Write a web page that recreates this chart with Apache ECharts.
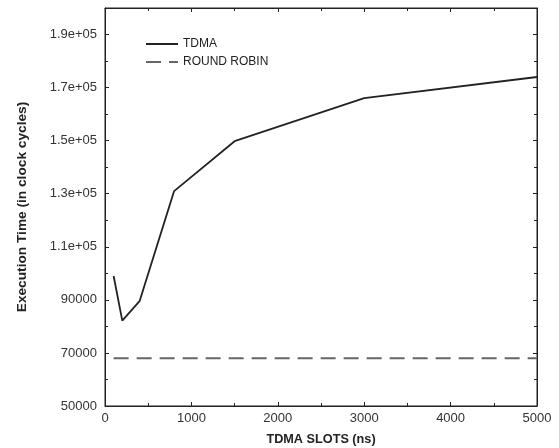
<!DOCTYPE html>
<html>
<head>
<meta charset="utf-8">
<script src="https://cdn.jsdelivr.net/npm/echarts@6/dist/echarts.min.js"></script>
<style>
  html, body { margin: 0; padding: 0; background: #fff; }
  #chart { width: 559px; height: 448px; }
</style>
</head>
<body>
<div id="chart"></div>
<script>
// TDMA slot sizes (ns) and execution time
var slots = [100, 200, 400, 800, 1500, 3000, 5000];
var tdma = [99000, 82200, 89500, 131000, 149800, 166000, 174000];
var roundRobin = [68000, 68000, 68000, 68000, 68000, 68000, 68000];

var font = 'Liberation Sans, Arial, sans-serif';

function yLabel(v) {
  if (v >= 200000) return '';
  if (v >= 100000) return (v / 100000).toFixed(1) + 'e+05';
  return String(v);
}

// mirrored axes (top / right) only carry ticks
function mirrorAxis(pos, min, max, interval) {
  return {
    type: 'value', position: pos,
    min: min, max: max, interval: interval,
    axisLine: { show: true, onZero: false, lineStyle: { color: '#222' } },
    axisTick: { show: true, inside: true, length: 4, lineStyle: { color: '#222' } },
    minorTick: { show: true, splitNumber: 2, length: 3, lineStyle: { color: '#222' } },
    axisLabel: { show: false },
    splitLine: { show: false }
  };
}

var chart = echarts.init(document.getElementById('chart'));
var option = {
  animation: false,
  grid: {
    left: 105, right: 22, top: 8, bottom: 42,
    outerBoundsMode: 'none',
    containLabel: false,
    show: true,
    borderColor: '#222',
    borderWidth: 1
  },
  legend: {
    orient: 'vertical',
    left: 140,
    top: 33,
    itemWidth: 32,
    itemHeight: 10,
    itemGap: 6,
    itemStyle: { opacity: 0 },
    textStyle: { fontFamily: font, fontSize: 12, color: '#222' },
    data: ['TDMA', 'ROUND ROBIN']
  },
  xAxis: [
    {
      type: 'value',
      min: 0, max: 5000, interval: 1000,
      name: 'TDMA SLOTS (ns)',
      nameLocation: 'middle',
      nameGap: 27,
      nameTextStyle: { fontFamily: font, fontSize: 12.7, fontWeight: 'bold', color: '#222' },
      axisLine: { onZero: false, lineStyle: { color: '#222' } },
      axisTick: { inside: true, length: 4, lineStyle: { color: '#222' } },
      minorTick: { show: true, splitNumber: 2, length: 3, lineStyle: { color: '#222' } },
      axisLabel: { fontFamily: font, fontSize: 13, color: '#333', margin: 6, formatter: function (v) { return String(v); } },
      splitLine: { show: false }
    },
    mirrorAxis('top', 0, 5000, 1000)
  ],
  yAxis: [
    {
      type: 'value',
      min: 50000, max: 200000, interval: 20000,
      name: 'Execution Time (in clock cycles)',
      nameLocation: 'middle',
      nameGap: 76,
      nameTextStyle: { fontFamily: font, fontSize: 13.7, fontWeight: 'bold', color: '#222' },
      axisLine: { show: true, onZero: false, lineStyle: { color: '#222' } },
      axisTick: { inside: true, length: 4, lineStyle: { color: '#222' } },
      minorTick: { show: true, splitNumber: 2, length: 3, lineStyle: { color: '#222' } },
      axisLabel: { fontFamily: font, fontSize: 13, color: '#333', margin: 8, formatter: yLabel },
      splitLine: { show: false }
    },
    mirrorAxis('right', 50000, 200000, 20000)
  ],
  series: [
    {
      name: 'TDMA',
      type: 'line',
      symbol: 'none',
      itemStyle: { color: '#222' },
      lineStyle: { color: '#222', width: 1.8 },
      data: slots.map(function (s, i) { return [s, tdma[i]]; })
    },
    {
      name: 'ROUND ROBIN',
      type: 'line',
      symbol: 'none',
      itemStyle: { color: '#666' },
      lineStyle: { color: '#666', width: 2, type: [15, 8] },
      data: slots.map(function (s, i) { return [s, roundRobin[i]]; })
    }
  ]
};
chart.setOption(option);
</script>
</body>
</html>
